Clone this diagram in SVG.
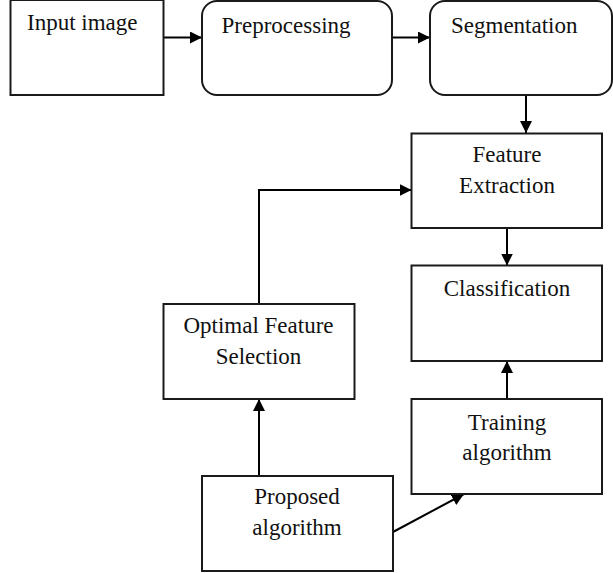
<svg xmlns="http://www.w3.org/2000/svg" width="613" height="573" viewBox="0 0 613 573">
  <defs>
    <marker id="arrow" viewBox="0 0 12 12" refX="12" refY="6" markerWidth="12" markerHeight="12" markerUnits="userSpaceOnUse" orient="auto">
      <path d="M0,0 L12,6 L0,12 Z" fill="#000"/>
    </marker>
    <style>
      .box { fill: #fff; stroke: #1a1a1a; stroke-width: 2; }
      .lbl { font-family: "Liberation Serif", "Times New Roman", serif; font-size: 23px; fill: #111; }
      .mid { text-anchor: middle; }
      .conn { fill: none; stroke: #000; stroke-width: 2; marker-end: url(#arrow); }
    </style>
  </defs>
  <rect width="613" height="573" fill="#fff"/>

  <g id="connectors">
    <line class="conn" x1="164" y1="37.5" x2="202" y2="37.5"/>
    <line class="conn" x1="392" y1="37.5" x2="430" y2="37.5"/>
    <line class="conn" x1="526" y1="95" x2="526" y2="133"/>
    <line class="conn" x1="507" y1="228" x2="507" y2="265.5"/>
    <line class="conn" x1="507" y1="399" x2="507" y2="361"/>
    <polyline class="conn" points="259,304 259,190 411.5,190"/>
    <line class="conn" x1="259" y1="476" x2="259" y2="399"/>
    <line class="conn" x1="393" y1="532" x2="464" y2="494"/>
  </g>

  <g id="input-image">
    <rect class="box" x="10.5" y="0" width="153" height="95"/>
    <text class="lbl" x="27" y="30">Input image</text>
  </g>

  <g id="preprocessing">
    <rect class="box" x="202" y="1" width="190" height="94" rx="15" ry="15"/>
    <text class="lbl" x="221.5" y="33">Preprocessing</text>
  </g>

  <g id="segmentation">
    <rect class="box" x="430" y="1" width="182" height="94" rx="15" ry="15"/>
    <text class="lbl" x="451" y="33">Segmentation</text>
  </g>

  <g id="feature-extraction">
    <rect class="box" x="411.5" y="133.5" width="190.5" height="94.5"/>
    <text class="lbl mid" x="507" y="162">Feature</text>
    <text class="lbl mid" x="507" y="193">Extraction</text>
  </g>

  <g id="classification">
    <rect class="box" x="411.5" y="265.5" width="190.5" height="95.5"/>
    <text class="lbl mid" x="507" y="295.5">Classification</text>
  </g>

  <g id="optimal-feature-selection">
    <rect class="box" x="163.5" y="304" width="191" height="95"/>
    <text class="lbl mid" x="258.5" y="333">Optimal Feature</text>
    <text class="lbl mid" x="258.5" y="364">Selection</text>
  </g>

  <g id="training-algorithm">
    <rect class="box" x="411.5" y="399" width="190.5" height="95"/>
    <text class="lbl mid" x="507" y="430">Training</text>
    <text class="lbl mid" x="507" y="460">algorithm</text>
  </g>

  <g id="proposed-algorithm">
    <rect class="box" x="202" y="476" width="191" height="95"/>
    <text class="lbl mid" x="297" y="504">Proposed</text>
    <text class="lbl mid" x="297" y="535">algorithm</text>
  </g>
</svg>
